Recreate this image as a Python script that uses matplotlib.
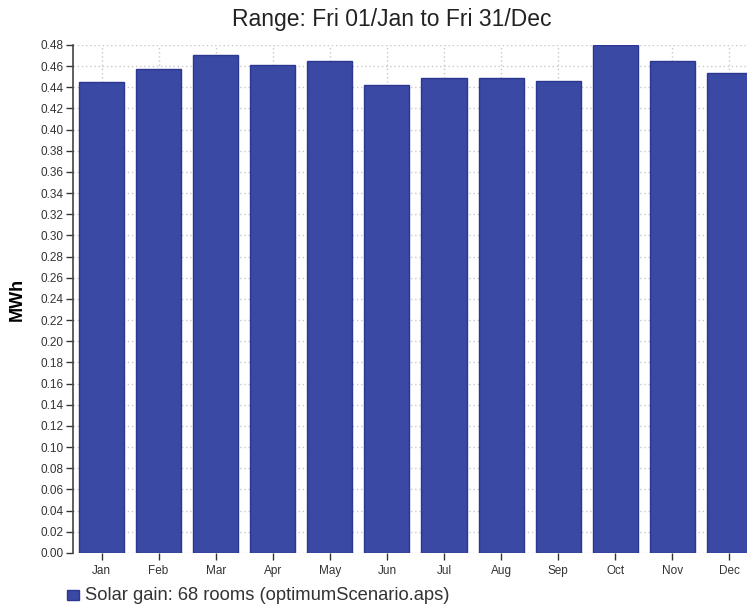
import matplotlib.pyplot as plt
import numpy as np

# Monthly solar gain (MWh)
months = ["Jan", "Feb", "Mar", "Apr", "May", "Jun",
          "Jul", "Aug", "Sep", "Oct", "Nov", "Dec"]
solar_gain = [0.445, 0.457, 0.471, 0.461, 0.465, 0.442,
              0.449, 0.449, 0.446, 0.480, 0.465, 0.454]
y_ticks = np.round(np.arange(0, 0.481, 0.02), 2)

plt.rcParams["font.family"] = ["Liberation Sans", "DejaVu Sans"]

fig = plt.figure(figsize=(7.47, 6.08), dpi=100)
ax = fig.add_axes([0.0977, 0.0905, 0.917, 0.8355])

x = np.arange(len(months))
ax.bar(x, solar_gain, width=0.79, color="#3a49a4", edgecolor="#2c3792",
       linewidth=1.0, zorder=3)

ax.set_xlim(-0.5, len(months) - 0.5)
ax.set_ylim(0, 0.48)
ax.set_xticks(x)
ax.set_xticklabels(months)
ax.set_yticks(y_ticks)
ax.set_yticklabels([f"{v:.2f}" for v in y_ticks])

ax.tick_params(axis="both", labelsize=8.5, colors="#333333", length=5,
               width=1, direction="out")
ax.tick_params(axis="y", pad=2)
ax.grid(True, color="#c8c8c8", linestyle=(0, (1, 2)), linewidth=1, zorder=0)

for side in ["top", "right", "bottom"]:
    ax.spines[side].set_visible(False)
ax.spines["left"].set_color("#444444")
ax.spines["left"].set_linewidth(1.2)

ax.set_ylabel("MWh", fontsize=13, fontweight="bold", labelpad=10)
fig.text(0.525, 0.968, "Range: Fri 01/Jan to Fri 31/Dec", ha="center",
         va="center", fontsize=16.5, color="#222222")

# Legend entry
fig.patches.append(plt.Rectangle((0.0897, 0.0135), 0.016, 0.0165,
                                 transform=fig.transFigure,
                                 facecolor="#3a49a4", edgecolor="#2c3792"))
fig.text(0.114, 0.021, "Solar gain: 68 rooms (optimumScenario.aps)",
         ha="left", va="center", fontsize=13.2, color="#333333")

plt.savefig("out.png", dpi=100)
